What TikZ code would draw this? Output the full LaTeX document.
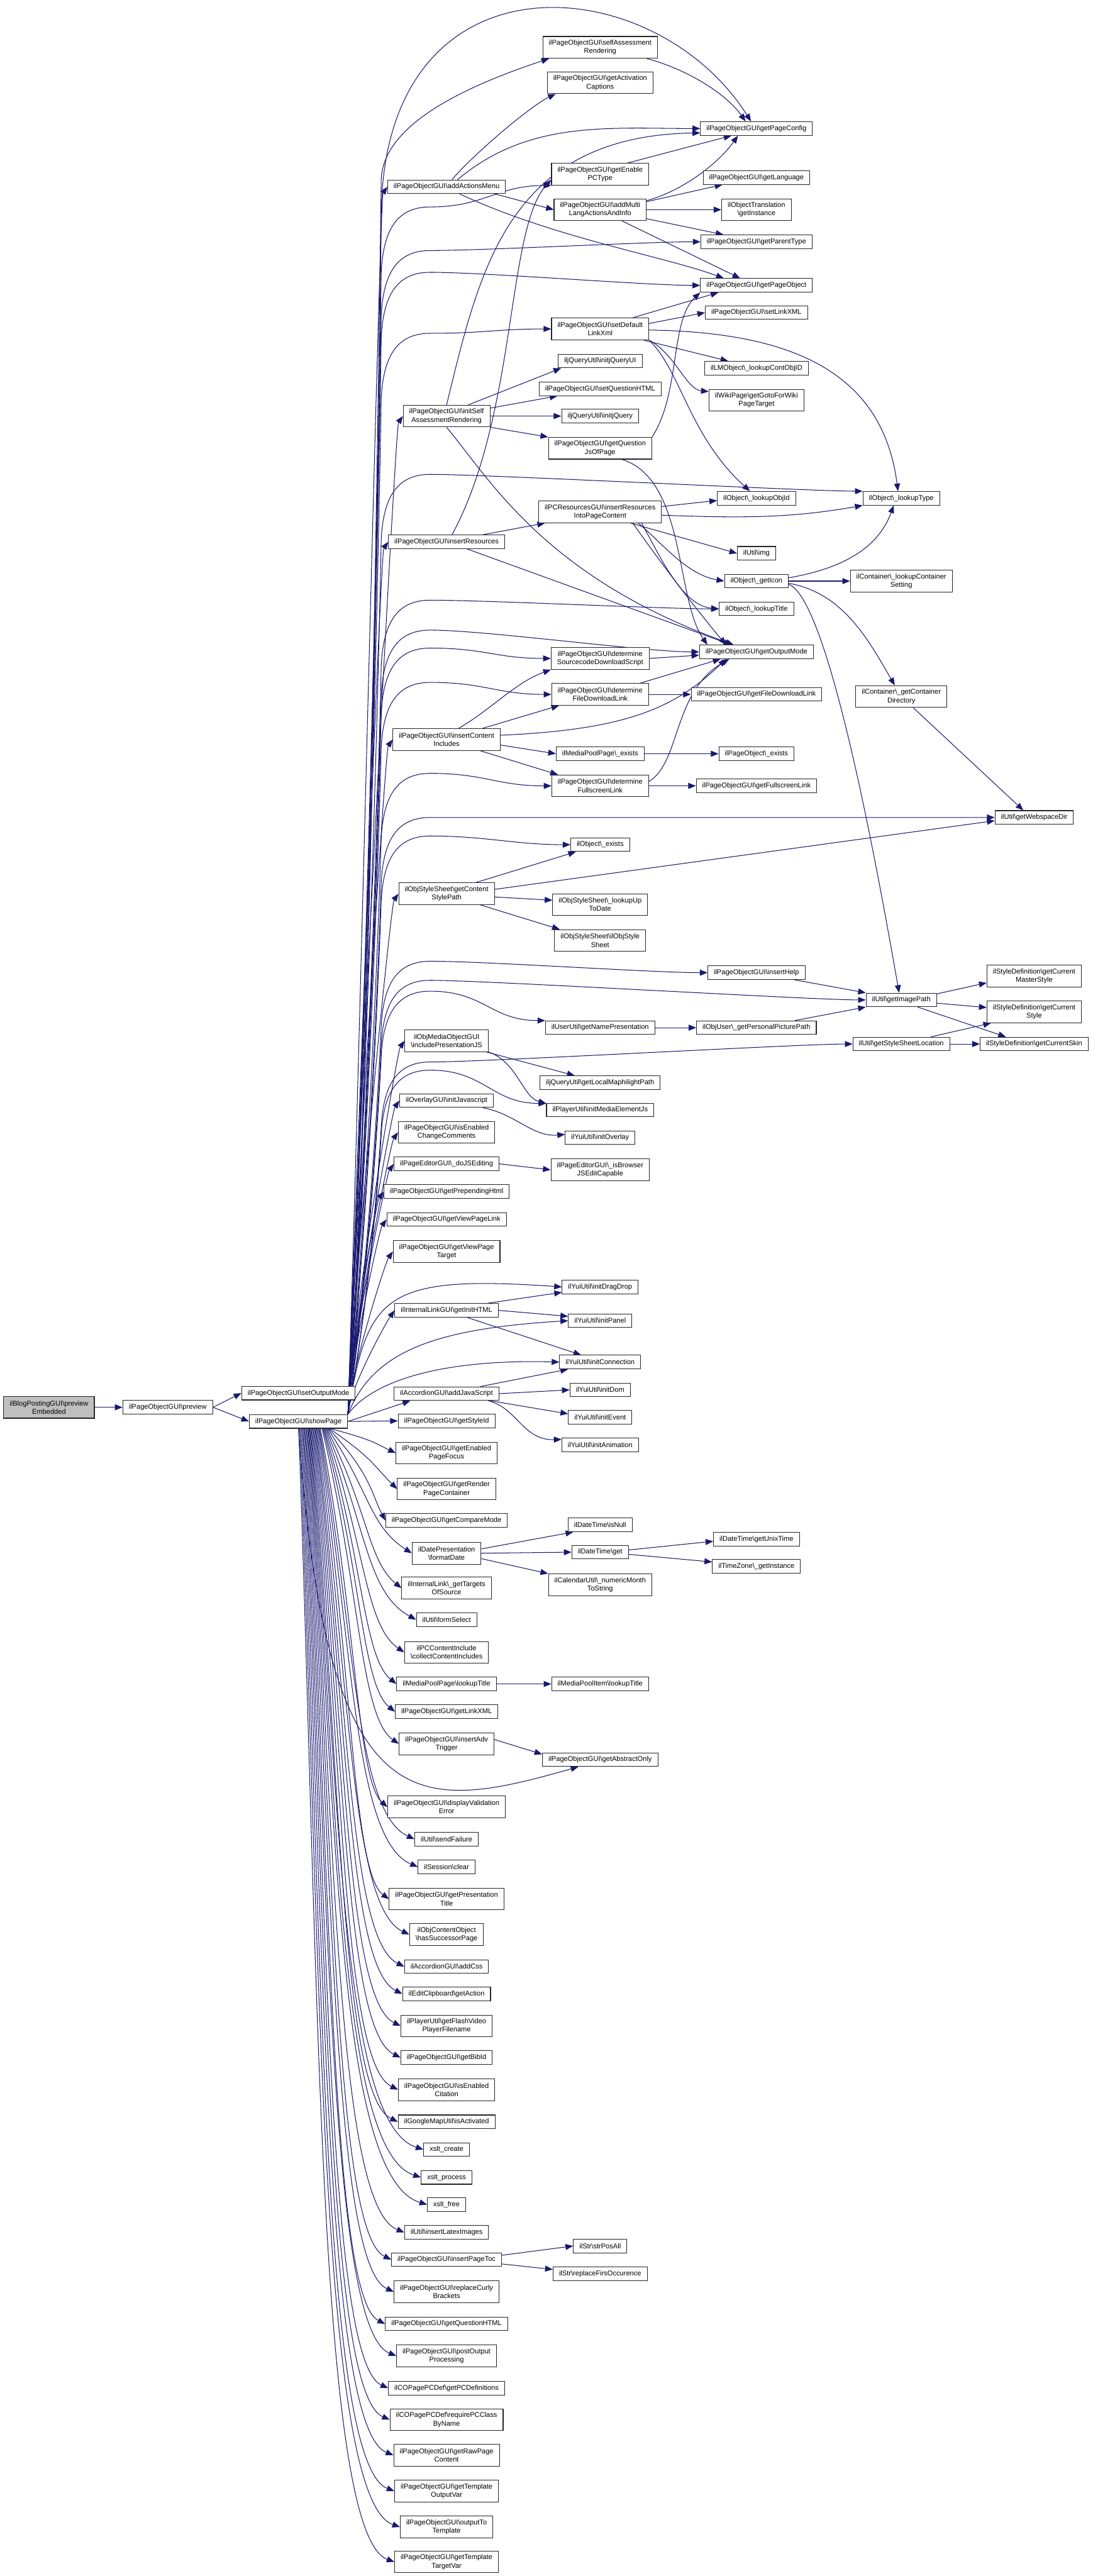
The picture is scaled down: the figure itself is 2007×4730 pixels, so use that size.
\documentclass[tikz,border=0pt]{standalone}
\usepackage{fontspec}
\setsansfont{Liberation Sans}
\usetikzlibrary{arrows.meta}
\pgfdeclarelayer{background}
\pgfsetlayers{background,main}
\definecolor{edgeblue}{HTML}{191970}
\newcommand\bs{\textbackslash}
\newcommand\fnfont{\sffamily\fontsize{6.4}{7.65}\selectfont}
\tikzset{
  fn/.style={draw=black!85, line width=0.6pt, fill=white, align=center, font=\fnfont,
    inner xsep=5.5pt, inner ysep=1pt, minimum height=12.5pt},
  fn2/.style={fn, minimum height=20pt},
  rootfn/.style={fn2, fill=black!25},
  call/.style={draw=edgeblue, line width=0.6pt, -{Triangle[length=7pt,width=5.5pt]}},
}
% showPage -> callee far right: up the bundle, then a run at height #2
\newcommand\fanto[2]{%
  \draw[call] (sp.north east) .. controls (672,{-2597+0.35*(2477-#2)}) and (692,{-#2-120-0.25*(2477-#2)}) .. (700,-#2-120)
    .. controls (704,-#2-40) and (730,-#2) .. (790,-#2) .. controls +(100,0) and +(-100,0) .. (#1);}
\begin{document}
\begin{tikzpicture}[x=0.5pt, y=0.5pt]
  \useasboundingbox (0,0) rectangle (2007,-4730);
  % caller chain
  \node[rootfn] (blog) at (90,-2584) {ilBlogPostingGUI\bs preview\\Embedded};
  \node[fn] (prev) at (308,-2584) {ilPageObjectGUI\bs preview};
  \node[fn] (som) at (548,-2558) {ilPageObjectGUI\bs setOutputMode};
  \node[fn] (sp) at (548,-2610) {ilPageObjectGUI\bs showPage};
  % direct callees of showPage
  \node[fn] (aam) at (820,-343) {ilPageObjectGUI\bs addActionsMenu};
  \node[fn2] (isar) at (820,-764) {ilPageObjectGUI\bs initSelf\\AssessmentRendering};
  \node[fn] (ires) at (820,-995) {ilPageObjectGUI\bs insertResources};
  \node[fn2] (ici) at (820,-1358) {ilPageObjectGUI\bs insertContent\\Includes};
  \node[fn2] (csp) at (820,-1641) {ilObjStyleSheet\bs getContent\\StylePath};
  \node[fn2] (ipjs) at (820,-1911) {ilObjMediaObjectGUI\\\bs includePresentationJS};
  \node[fn] (ojs) at (820,-2021) {ilOverlayGUI\bs initJavascript};
  \node[fn2] (ecc) at (820,-2079) {ilPageObjectGUI\bs isEnabled\\ChangeComments};
  \node[fn] (dojs) at (820,-2137) {ilPageEditorGUI\bs \_doJSEditing};
  \node[fn] (pph) at (820,-2188) {ilPageObjectGUI\bs getPrependingHtml};
  \node[fn] (vpl) at (820,-2239) {ilPageObjectGUI\bs getViewPageLink};
  \node[fn2] (vpt) at (820,-2298) {ilPageObjectGUI\bs getViewPage\\Target};
  \node[fn] (gih) at (820,-2406) {ilInternalLinkGUI\bs getInitHTML};
  \node[fn] (ajs) at (820,-2559) {ilAccordionGUI\bs addJavaScript};
  \node[fn] (gsi) at (820,-2609) {ilPageObjectGUI\bs getStyleId};
  \node[fn2] (epf) at (820,-2668) {ilPageObjectGUI\bs getEnabled\\PageFocus};
  \node[fn2] (rpc) at (820,-2734) {ilPageObjectGUI\bs getRender\\PageContainer};
  \node[fn] (gcm) at (820,-2792) {ilPageObjectGUI\bs getCompareMode};
  \node[fn2] (fdt) at (820,-2852) {ilDatePresentation\\\bs formatDate};
  \node[fn2] (gts) at (820,-2916) {ilInternalLink\bs \_getTargets\\OfSource};
  \node[fn] (fsel) at (820,-2974) {ilUtil\bs formSelect};
  \node[fn2] (cci) at (820,-3034) {ilPCContentInclude\\\bs collectContentIncludes};
  \node[fn] (mplt) at (820,-3092) {ilMediaPoolPage\bs lookupTitle};
  \node[fn] (glx) at (820,-3143) {ilPageObjectGUI\bs getLinkXML};
  \node[fn2] (iat) at (820,-3202) {ilPageObjectGUI\bs insertAdv\\Trigger};
  \node[fn2] (dve) at (820,-3318) {ilPageObjectGUI\bs displayValidation\\Error};
  \node[fn] (sfail) at (820,-3377) {ilUtil\bs sendFailure};
  \node[fn] (sclr) at (820,-3428) {ilSession\bs clear};
  \node[fn2] (gpt) at (820,-3487) {ilPageObjectGUI\bs getPresentation\\Title};
  \node[fn2] (hsp) at (820,-3552) {ilObjContentObject\\\bs hasSuccessorPage};
  \node[fn] (acss) at (820,-3611) {ilAccordionGUI\bs addCss};
  \node[fn] (gact) at (820,-3661) {ilEditClipboard\bs getAction};
  \node[fn2] (fvp) at (820,-3720) {ilPlayerUtil\bs getFlashVideo\\PlayerFilename};
  \node[fn] (gbib) at (820,-3778) {ilPageObjectGUI\bs getBibId};
  \node[fn2] (ecit) at (820,-3837) {ilPageObjectGUI\bs isEnabled\\Citation};
  \node[fn] (gmap) at (820,-3896) {ilGoogleMapUtil\bs isActivated};
  \node[fn] (xcre) at (820,-3947) {xslt\_create};
  \node[fn] (xpro) at (820,-3998) {xslt\_process};
  \node[fn] (xfre) at (820,-4048) {xslt\_free};
  \node[fn] (lat) at (820,-4099) {ilUtil\bs insertLatexImages};
  \node[fn] (toc) at (820,-4149) {ilPageObjectGUI\bs insertPageToc};
  \node[fn2] (curly) at (820,-4208) {ilPageObjectGUI\bs replaceCurly\\Brackets};
  \node[fn] (gqh) at (820,-4267) {ilPageObjectGUI\bs getQuestionHTML};
  \node[fn2] (pop) at (820,-4326) {ilPageObjectGUI\bs postOutput\\Processing};
  \node[fn] (pcd) at (820,-4385) {ilCOPagePCDef\bs getPCDefinitions};
  \node[fn2] (rpcc) at (820,-4443) {ilCOPagePCDef\bs requirePCClass\\ByName};
  \node[fn2] (rawc) at (820,-4508) {ilPageObjectGUI\bs getRawPage\\Content};
  \node[fn2] (tov) at (820,-4574) {ilPageObjectGUI\bs getTemplate\\OutputVar};
  \node[fn2] (otl) at (820,-4640) {ilPageObjectGUI\bs outputTo\\Template};
  \node[fn2] (ttv) at (820,-4704) {ilPageObjectGUI\bs getTemplate\\TargetVar};
  % third column
  \node[fn2] (sar) at (1102,-87) {ilPageObjectGUI\bs selfAssessment\\Rendering};
  \node[fn2] (gac) at (1102,-152) {ilPageObjectGUI\bs getActivation\\Captions};
  \node[fn2] (epc) at (1102,-320) {ilPageObjectGUI\bs getEnable\\PCType};
  \node[fn2] (amla) at (1102,-385) {ilPageObjectGUI\bs addMulti\\LangActionsAndInfo};
  \node[fn2] (sdl) at (1102,-604) {ilPageObjectGUI\bs setDefault\\LinkXml};
  \node[fn] (jqui) at (1102,-663) {iljQueryUtil\bs initjQueryUI};
  \node[fn] (sqh) at (1102,-714) {ilPageObjectGUI\bs setQuestionHTML};
  \node[fn] (jq) at (1102,-764) {iljQueryUtil\bs initjQuery};
  \node[fn2] (qjs) at (1102,-823) {ilPageObjectGUI\bs getQuestion\\JsOfPage};
  \node[fn2] (irpc) at (1102,-940) {ilPCResourcesGUI\bs insertResources\\IntoPageContent};
  \node[fn2] (dsds) at (1102,-1209) {ilPageObjectGUI\bs determine\\SourcecodeDownloadScript};
  \node[fn2] (dfdl) at (1102,-1275) {ilPageObjectGUI\bs determine\\FileDownloadLink};
  \node[fn] (mpex) at (1102,-1384) {ilMediaPoolPage\bs \_exists};
  \node[fn2] (dfsl) at (1102,-1443) {ilPageObjectGUI\bs determine\\FullscreenLink};
  \node[fn] (oex) at (1102,-1551) {ilObject\bs \_exists};
  \node[fn2] (lutd) at (1102,-1661) {ilObjStyleSheet\bs \_lookupUp\\ToDate};
  \node[fn2] (oss) at (1102,-1727) {ilObjStyleSheet\bs ilObjStyle\\Sheet};
  \node[fn] (gnp) at (1102,-1887) {ilUserUtil\bs getNamePresentation};
  \node[fn] (lmp) at (1102,-1988) {iljQueryUtil\bs getLocalMaphilightPath};
  \node[fn] (imej) at (1102,-2038) {ilPlayerUtil\bs initMediaElementJs};
  \node[fn] (iov) at (1102,-2089) {ilYuiUtil\bs initOverlay};
  \node[fn2] (bjs) at (1102,-2148) {ilPageEditorGUI\bs \_isBrowser\\JSEditCapable};
  \node[fn] (idd) at (1102,-2363) {ilYuiUtil\bs initDragDrop};
  \node[fn] (ipan) at (1102,-2425) {ilYuiUtil\bs initPanel};
  \node[fn] (icon) at (1102,-2501) {ilYuiUtil\bs initConnection};
  \node[fn] (idom) at (1102,-2552) {ilYuiUtil\bs initDom};
  \node[fn] (iev) at (1102,-2602) {ilYuiUtil\bs initEvent};
  \node[fn] (ian) at (1102,-2653) {ilYuiUtil\bs initAnimation};
  \node[fn] (dnull) at (1102,-2800) {ilDateTime\bs isNull};
  \node[fn] (dget) at (1102,-2850) {ilDateTime\bs get};
  \node[fn2] (nms) at (1102,-2910) {ilCalendarUtil\bs \_numericMonth\\ToString};
  \node[fn] (mpit) at (1102,-3092) {ilMediaPoolItem\bs lookupTitle};
  \node[fn] (gao) at (1102,-3231) {ilPageObjectGUI\bs getAbstractOnly};
  \node[fn] (spa) at (1102,-4124) {ilStr\bs strPosAll};
  \node[fn] (rfo) at (1102,-4175) {ilStr\bs replaceFirsOccurence};
  % fourth column
  \node[fn] (gpc) at (1389,-236) {ilPageObjectGUI\bs getPageConfig};
  \node[fn] (glang) at (1389,-326) {ilPageObjectGUI\bs getLanguage};
  \node[fn2] (otr) at (1389,-385) {ilObjectTranslation\\\bs getInstance};
  \node[fn] (gpty) at (1389,-444) {ilPageObjectGUI\bs getParentType};
  \node[fn] (gpo) at (1389,-524) {ilPageObjectGUI\bs getPageObject};
  \node[fn] (slx) at (1389,-574) {ilPageObjectGUI\bs setLinkXML};
  \node[fn] (lco) at (1389,-676) {ilLMObject\bs \_lookupContObjID};
  \node[fn2] (wiki) at (1389,-735) {ilWikiPage\bs getGotoForWiki\\PageTarget};
  \node[fn] (loi) at (1389,-915) {ilObject\bs \_lookupObjId};
  \node[fn] (img) at (1389,-1016) {ilUtil\bs img};
  \node[fn] (gic) at (1389,-1067) {ilObject\bs \_getIcon};
  \node[fn] (ltit) at (1389,-1118) {ilObject\bs \_lookupTitle};
  \node[fn] (gom) at (1389,-1197) {ilPageObjectGUI\bs getOutputMode};
  \node[fn] (gfdl) at (1389,-1275) {ilPageObjectGUI\bs getFileDownloadLink};
  \node[fn] (pex) at (1389,-1384) {ilPageObject\bs \_exists};
  \node[fn] (gfsl) at (1389,-1443) {ilPageObjectGUI\bs getFullscreenLink};
  \node[fn] (ihelp) at (1389,-1786) {ilPageObjectGUI\bs insertHelp};
  \node[fn] (ppp) at (1389,-1887) {ilObjUser\bs \_getPersonalPicturePath};
  \node[fn] (unix) at (1389,-2826) {ilDateTime\bs getUnixTime};
  \node[fn] (tzi) at (1389,-2876) {ilTimeZone\bs \_getInstance};
  % fifth and sixth column
  \node[fn] (lty) at (1655,-915) {ilObject\bs \_lookupType};
  \node[fn2] (lcs) at (1655,-1067) {ilContainer\bs \_lookupContainer\\Setting};
  \node[fn2] (gcd) at (1655,-1279) {ilContainer\bs \_getContainer\\Directory};
  \node[fn] (gip) at (1655,-1836) {ilUtil\bs getImagePath};
  \node[fn] (gssl) at (1655,-1917) {ilUtil\bs getStyleSheetLocation};
  \node[fn] (wsd) at (1899,-1501) {ilUtil\bs getWebspaceDir};
  \node[fn2] (cms) at (1899,-1792) {ilStyleDefinition\bs getCurrent\\MasterStyle};
  \node[fn2] (cst) at (1899,-1858) {ilStyleDefinition\bs getCurrent\\Style};
  \node[fn] (csk) at (1899,-1917) {ilStyleDefinition\bs getCurrentSkin};

  \begin{pgfonlayer}{background}
  \fill[white] (0,0) rectangle (2007,-4730);
  \draw[call] (blog) -- (prev);
  \draw[call] (prev.east) -- (som.west);
  \draw[call] (prev.east) -- (sp.west);
  % showPage fans out to its callees
  \foreach \tgt/\ty in {aam/343,isar/764,ires/995,ici/1358,csp/1641,ipjs/1911,ojs/2021,ecc/2079,dojs/2137,pph/2188,vpl/2239,vpt/2298,gih/2406}
    \draw[call] (sp.north east) .. controls +(88:{0.24*(2597-\ty)}) and +(235:24) .. (\tgt.west);
  \draw[call] (sp.east) -- ([xshift=15pt]ajs.south west);
  \draw[call] (sp.east) -- (gsi.west);
  \foreach \tgt/\ty in {epf/2668,rpc/2734,gcm/2792,fdt/2852,gts/2916,fsel/2974,cci/3034,mplt/3092,glx/3143,iat/3202,dve/3318,sfail/3377,sclr/3428,gpt/3487,hsp/3552,acss/3611,gact/3661,fvp/3720,gbib/3778,ecit/3837,gmap/3896,xcre/3947,xpro/3998,xfre/4048,lat/4099,toc/4149,curly/4208,gqh/4267,pop/4326,pcd/4385,rpcc/4443,rawc/4508,tov/4574,otl/4640,ttv/4704}
    \draw[call] ([xshift={30*(1-(\ty-2622)/2100)}]sp.south)
      .. controls ({690-0.05*(\ty-2622)},{-2622-0.5*(\ty-2622)}) and ({690-0.05*(\ty-2622)},{-\ty+min(50,0.4*(\ty-2622))}) .. (\tgt.west);
  \draw[call] (sp.north east) .. controls (675,-2200) and (695,-900) .. (700,-400) .. controls (700,100) and (1200,60) .. ([xshift=-5pt]gpc.north);
  \draw[call] (sp.north east) .. controls (675,-2200) and (695,-700) .. (700,-330) .. controls (703,-230) and (850,-160) .. ([xshift=6pt]sar.south west);
  \fanto{epc.south west}{380}
  \fanto{gpty.west}{460}
  \fanto{gpo.west}{500}
  \fanto{sdl.west}{612}
  \fanto{lty.north west}{871}
  \fanto{ltit.west}{1102}
  \fanto{gom.west}{1157}
  \fanto{dsds.west}{1190}
  \fanto{dfdl.west}{1253}
  \fanto{dfsl.west}{1420}
  \fanto{wsd.west}{1501}
  \fanto{oex.west}{1535}
  \fanto{ihelp.west}{1765}
  \fanto{gip.west}{1800}
  \fanto{gnp.north west}{1820}
  \fanto{gssl.west}{1950}
  \fanto{[yshift=6pt]imej.west}{1965}
  \draw[call] (sp.north east) .. controls (675,-2380) and (700,-2340) .. (idd.west);
  \draw[call] (sp.north east) .. controls (685,-2480) and (800,-2440) .. (ipan.west);
  \draw[call] (sp.north east) .. controls (680,-2540) and (800,-2495) .. (icon.west);
  \draw[call] (sp.south) .. controls (600,-3350) and (760,-3330) .. ([xshift=-20pt]gao.south);
  % actions menu and self assessment
  \draw[call] ([xshift=5pt]aam.north) .. controls +(50:60) and +(205:50) .. ([xshift=8pt]gac.south west);
  \draw[call] ([xshift=10pt]aam.north) .. controls +(40:170) and +(180:170) .. (gpc.west);
  \draw[call] ([xshift=-10pt]aam.south east) -- (amla.west);
  \draw[call] ([xshift=12pt]aam.south) .. controls +(-25:190) and +(160:120) .. ([xshift=-30pt]gpo.north);
  \draw[call] ([xshift=-10pt]sar.south east) .. controls +(-15:80) and +(125:60) .. ([xshift=-10pt]gpc.north);
  \draw[call] ([yshift=-2pt]amla.north east) .. controls +(15:70) and +(-125:60) .. ([xshift=-17pt]gpc.south);
  \draw[call] ([yshift=-3pt]amla.north east) -- ([xshift=18pt]glang.south west);
  \draw[call] (amla.east) -- (otr.west);
  \draw[call] ([yshift=2pt]amla.south east) -- ([xshift=21pt]gpty.north west);
  \draw[call] ([xshift=20pt]amla.south) -- ([xshift=-15pt]gpo.north);
  \draw[call] ([xshift=25pt]epc.north) -- ([xshift=-23pt]gpc.south);
  \draw[call] (isar.north) .. controls (880,-500) and (930,-250) .. ([yshift=-4pt]gpc.west);
  \draw[call] ([xshift=20pt]isar.north) -- ([xshift=3pt]jqui.south west);
  \draw[call] ([yshift=-3pt]isar.north east) -- ([xshift=17pt]sqh.south west);
  \draw[call] (isar.east) -- (jq.west);
  \draw[call] (isar.south east) -- (qjs.north west);
  \draw[call] (isar.south) .. controls (900,-880) and (1000,-1060) .. ([xshift=-21pt]gom.north);
  \draw[call] (qjs.north east) .. controls (1250,-720) and (1230,-590) .. (gpo.south west);
  \draw[call] ([xshift=20pt]qjs.south) .. controls (1260,-880) and (1240,-1100) .. ([xshift=-45pt]gom.north);
  \draw[call] ([xshift=30pt]sdl.north) -- ([xshift=-35pt]gpo.south);
  \draw[call] ([yshift=5pt]sdl.east) -- (slx.west);
  \draw[call] ([yshift=-1pt]sdl.east) .. controls (1450,-610) and (1620,-680) .. ([xshift=-3pt]lty.north);
  \draw[call] ([xshift=-5pt]sdl.south east) -- ([xshift=22pt]lco.north west);
  \draw[call] (sdl.south east) .. controls (1240,-650) and (1260,-715) .. ([yshift=8pt]wiki.west);
  \draw[call] (sdl.south east) .. controls (1250,-680) and (1265,-800) .. ([xshift=-6pt]loi.north);
  % resources
  \draw[call] ([xshift=5pt]ires.north) .. controls (950,-760) and (930,-420) .. ([yshift=-5pt]epc.west);
  \draw[call] ([xshift=33pt]ires.north) -- ([xshift=6pt]irpc.south west);
  \draw[call] ([xshift=19pt]ires.south) -- ([xshift=-23pt]gom.north);
  \draw[call] ([yshift=5pt]irpc.east) -- ([yshift=-2pt]loi.west);
  \draw[call] ([yshift=-3pt]irpc.east) .. controls +(-2:140) and +(190:140) .. (lty.south west);
  \draw[call] ([xshift=28pt]irpc.south) -- (img.west);
  \draw[call] ([xshift=35pt]irpc.south) .. controls +(-40:60) and +(170:70) .. (gic.west);
  \draw[call] ([xshift=38pt]irpc.south) .. controls +(-60:60) and +(175:70) .. (ltit.west);
  \draw[call] ([xshift=30pt]irpc.south) .. controls +(-55:90) and +(130:80) .. ([xshift=-28pt]gom.north);
  \draw[call] ([yshift=3pt]gic.east) .. controls +(10:90) and +(-110:90) .. ([xshift=-7pt]lty.south);
  \draw[call] (gic.east) -- (lcs.west);
  \draw[call] ([yshift=-2pt]gic.east) .. controls +(-10:100) and +(120:100) .. ([xshift=-6pt]gcd.north);
  \draw[call] ([yshift=-3pt]gic.east) .. controls +(-20:80) and +(100:200) .. ([xshift=-2pt]gip.north);
  \draw[call] ([xshift=11pt]gcd.south) -- ([xshift=-10pt]wsd.north);
  % content includes
  \draw[call] ([xshift=11pt]ici.north) .. controls +(30:70) and +(200:70) .. (dsds.south west);
  \draw[call] ([xshift=33pt]ici.north) -- ([xshift=7pt]dfdl.south west);
  \draw[call] ([yshift=-5pt]ici.east) -- (mpex.west);
  \draw[call] ([xshift=31pt]ici.south) -- ([xshift=6pt]dfsl.north west);
  \draw[call] ([yshift=4pt]ici.east) .. controls (1150,-1340) and (1240,-1300) .. ([xshift=-28pt]gom.south);
  \draw[call] (dsds.east) -- ([yshift=-3pt]gom.west);
  \draw[call] ([xshift=-8pt]dfdl.north east) -- ([xshift=-33pt]gom.south);
  \draw[call] (dfdl.east) -- (gfdl.west);
  \draw[call] ([yshift=4pt]dfsl.east) .. controls (1250,-1400) and (1235,-1270) .. ([xshift=-25pt]gom.south);
  \draw[call] (dfsl.east) -- (gfsl.west);
  \draw[call] (mpex.east) -- (pex.west);
  % style sheets, users and images
  \draw[call] ([yshift=-3pt]csp.east) -- ([yshift=4pt]lutd.west);
  \draw[call] ([xshift=31pt]csp.south) -- ([xshift=5pt]oss.north west);
  \draw[call] ([xshift=27pt]csp.north) -- ([xshift=5pt]oex.south west);
  \draw[call] ([yshift=4pt]csp.east) -- ([yshift=-3pt]wsd.west);
  \draw[call] (gnp.east) -- (ppp.west);
  \draw[call] ([xshift=-20pt]ppp.north east) -- (gip.south west);
  \draw[call] ([xshift=-10pt]ihelp.south east) -- (gip.north west);
  \draw[call] ([yshift=-1pt]gip.north east) -- ([yshift=4pt]cms.south west);
  \draw[call] ([yshift=-3pt]gip.east) -- ([yshift=4pt]cst.west);
  \draw[call] ([xshift=15pt]gip.south) -- ([xshift=-26pt]csk.north);
  \draw[call] ([xshift=27pt]gssl.north) -- ([xshift=4pt]cst.south west);
  \draw[call] (gssl.east) -- (csk.west);
  % javascript helpers
  \draw[call] ([xshift=-2pt]ipjs.south east) -- ([xshift=32pt]lmp.north west);
  \draw[call] (ipjs.south east) .. controls (950,-1950) and (960,-2015) .. ([yshift=6pt]imej.west);
  \draw[call] ([xshift=-10pt]ojs.south east) .. controls +(-10:60) and +(185:60) .. ([yshift=3pt]iov.west);
  \draw[call] (dojs.east) -- (bjs.west);
  \draw[call] ([xshift=-10pt]gih.north east) -- ([yshift=-5pt]idd.west);
  \draw[call] (gih.east) -- ([yshift=4pt]ipan.west);
  \draw[call] ([xshift=19pt]gih.south) -- ([xshift=20pt]icon.north west);
  \draw[call] ([xshift=31pt]ajs.north) -- ([xshift=8pt]icon.south west);
  \draw[call] (ajs.east) -- (idom.west);
  \draw[call] ([xshift=-8pt]ajs.south east) -- ([yshift=3pt]iev.west);
  \draw[call] ([xshift=-10pt]ajs.south east) .. controls (950,-2585) and (960,-2645) .. ([yshift=5pt]ian.west);
  % dates, media pool, toc
  \draw[call] ([yshift=4pt]fdt.east) -- ([xshift=5pt]dnull.south west);
  \draw[call] (fdt.east) -- (dget.west);
  \draw[call] ([yshift=-5pt]fdt.east) -- (nms.north west);
  \draw[call] ([yshift=2pt]dget.east) -- ([yshift=-2pt]unix.west);
  \draw[call] ([yshift=-2pt]dget.east) -- ([yshift=4pt]tzi.west);
  \draw[call] (mplt.east) -- (mpit.west);
  \draw[call] ([yshift=4pt]iat.east) -- ([yshift=5pt]gao.west);
  \draw[call] ([yshift=4pt]toc.east) -- (spa.west);
  \draw[call] ([yshift=-4pt]toc.east) -- ([yshift=4pt]rfo.west);
  \end{pgfonlayer}
\end{tikzpicture}
\end{document}
